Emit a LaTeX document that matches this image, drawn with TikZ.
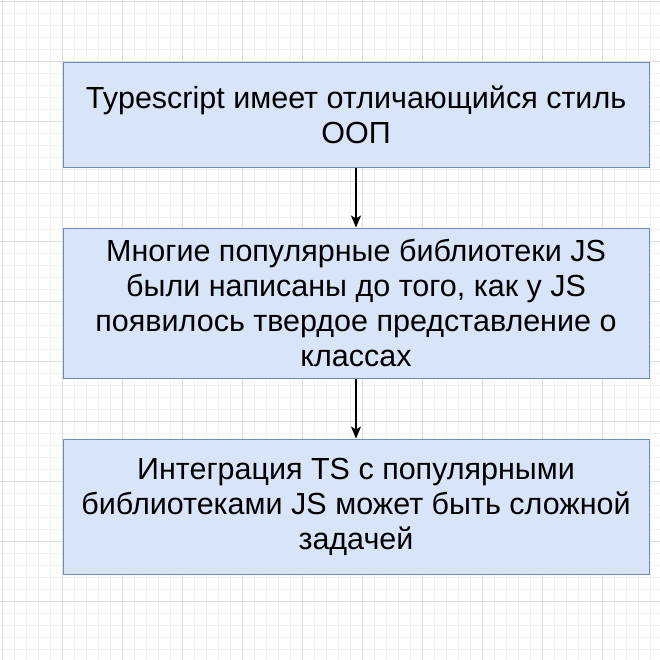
\documentclass[tikz,border=0pt]{standalone}
\usepackage{fontspec}
\setmainfont{Liberation Sans}
\usetikzlibrary{positioning, arrows.meta}

\definecolor{boxfill}{HTML}{D8E5F9}
\definecolor{boxline}{HTML}{6C8EBF}
\definecolor{gridminor}{HTML}{F1F1F1}
\definecolor{gridmajor}{HTML}{DCDCDC}

\begin{document}
\begin{tikzpicture}
	[x=1pt, y=1pt, node distance=60pt,
	 box/.style={draw=boxline, fill=boxfill, line width=1pt, minimum width=586pt,
	   align=center, inner sep=0pt, font=\fontsize{30.5}{35}\selectfont},
	 link/.style={-{Stealth[length=12pt, width=10pt, inset=3pt]}, line width=1.3pt}]
   \useasboundingbox (0,0) rectangle (660,-659);
   % background grid
   \begin{scope}[shift={(2,-1)}]
     \clip (-2,1) rectangle (658,-658);
     \draw[gridminor, line width=0.8pt, step=12] (-12,-672) grid (672,12);
     \draw[gridmajor, line width=0.9pt, step=60] (-60,-720) grid (720,60);
   \end{scope}
   \node[box, minimum height=105pt] (oop) at (356,-114.5)
     {Typescript имеет отличающийся стиль\\ООП};
   \node[box, minimum height=150pt] (libs) [below=of oop]
     {Многие популярные библиотеки JS\\были написаны до того, как у JS\\появилось твердое представление о\\классах};
   \node[box, minimum height=135pt] (integration) [below=of libs]
     {Интеграция TS с популярными\\библиотеками JS может быть сложной\\задачей};
   \draw[link] (oop) -- (libs);
   \draw[link] (libs) -- (integration);
\end{tikzpicture}
\end{document}
